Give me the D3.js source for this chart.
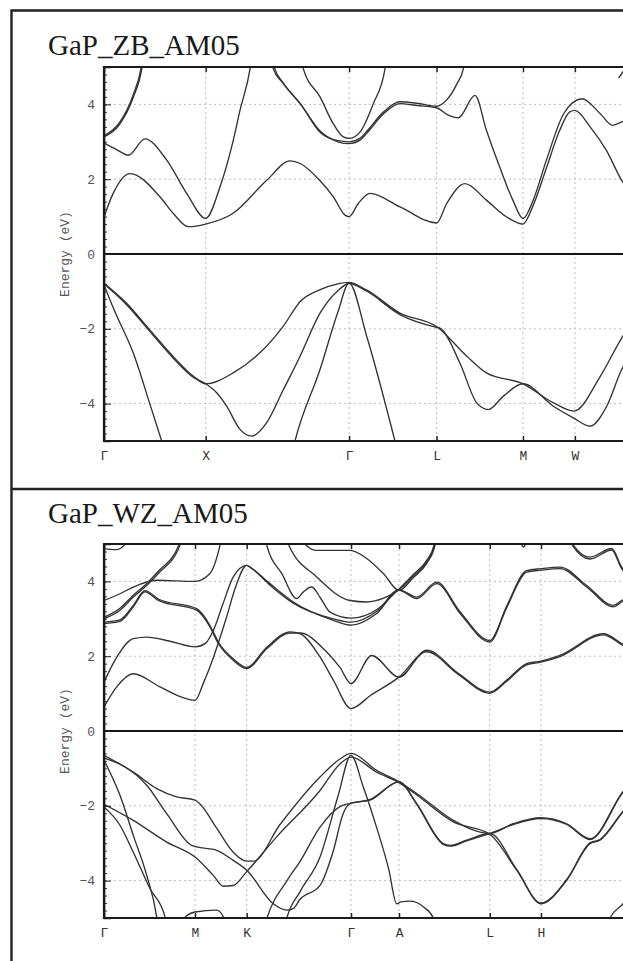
<!DOCTYPE html>
<html>
<head>
<meta charset="utf-8">
<script src="https://cdn.jsdelivr.net/npm/d3@7"></script>
<style>
  body { margin: 0; background: #fff; }
  svg { display: block; }
</style>
</head>
<body>
<div id="chart"></div>
<script>
// ---------------------------------------------------------------- data
const yTicks = [-4, -2, 0, 2, 4];

// k-path, zinc blende
const zbTickPos = [0, 1.0, 2.41, 3.27, 4.12, 4.63];
const zbTickLab = ["Γ", "X", "Γ", "L", "M", "W"];
// k-path, wurtzite
const wzTickPos = [0, 0.895, 1.403, 2.429, 2.901, 3.793, 4.297];
const wzTickLab = ["Γ", "M", "K", "Γ", "A", "L", "H"];

// bands as [k, E(eV)]
const zbConduction = [
  [[0,0.99],[0.09,1.62],[0.256,2.15],[0.55,1.53],[0.68,1.09],[0.83,0.73],[1.0,0.8],[1.27,1.09],[1.6,1.97],[1.83,2.49],[1.93,2.42],[2.12,1.97],[2.255,1.53],[2.37,1.04],[2.41,1.0],[2.5,1.35],[2.616,1.62],[2.91,1.26],[3.27,0.83],[3.37,1.35],[3.55,1.88],[3.76,1.44],[3.96,0.99],[4.12,0.8],[4.22,1.3],[4.35,2.3],[4.48,3.3],[4.58,3.8],[4.63,3.84],[4.78,3.4],[4.94,2.77],[5.09,1.97],[5.25,1.4]],
  [[1.64,5.2],[1.665,4.95],[1.75,4.6],[1.93,4.02],[2.12,3.3],[2.3,3.0],[2.41,2.95],[2.52,3.05],[2.58,3.22],[2.75,3.75],[2.91,4.02],[3.08,3.97],[3.27,3.91],[3.38,3.72],[3.484,3.64],[3.648,4.24],[3.76,3.31],[3.89,2.33],[4.02,1.44],[4.12,0.95],[4.22,1.44],[4.35,2.51],[4.52,3.75],[4.7,4.15],[4.88,3.75],[5.0,3.44],[5.09,3.53],[5.25,3.8]],
  [[1.655,5.2],[1.68,4.95],[1.76,4.58],[1.94,3.98],[2.13,3.24],[2.3,3.03],[2.41,3.0],[2.52,3.1],[2.58,3.27],[2.75,3.8],[2.91,4.07],[3.08,4.03],[3.27,3.95],[3.37,4.12],[3.47,4.55],[3.533,4.95],[3.55,5.2]],
  [[1.945,5.2],[1.96,4.95],[2.124,4.2],[2.255,3.48],[2.353,3.13],[2.41,3.09],[2.517,3.26],[2.648,4.02],[2.763,4.95],[2.775,5.2]],
  [[0,2.97],[0.12,2.8],[0.239,2.64],[0.403,3.08],[0.617,2.51],[0.813,1.62],[1.0,0.95],[1.141,1.8],[1.271,3.04],[1.337,3.84],[1.436,4.95],[1.45,5.2]],
  [[0,3.13],[0.157,3.48],[0.288,4.19],[0.371,4.95],[0.385,5.2]],
  [[0,3.16],[0.157,3.53],[0.285,4.24],[0.363,4.95],[0.378,5.2]],
  [[5.06,4.7],[5.1,4.86],[5.2,5.2]]
];
const zbValence = [
  [[0,-0.78],[0.22,-1.31],[0.45,-2.03],[0.68,-2.74],[0.88,-3.27],[1.0,-3.47],[1.27,-3.18],[1.53,-2.65],[1.76,-1.94],[1.93,-1.27],[2.12,-0.96],[2.3,-0.8],[2.41,-0.76],[2.58,-0.96],[2.91,-1.58],[3.27,-1.94],[3.57,-2.74],[3.76,-3.18],[4.12,-3.47],[4.42,-3.98],[4.62,-4.2],[4.88,-3.27],[5.09,-2.25],[5.25,-1.6]],
  [[0,-0.8],[0.22,-1.35],[0.45,-2.07],[0.68,-2.78],[0.88,-3.3],[1.0,-3.47],[1.108,-3.71],[1.206,-4.07],[1.337,-4.69],[1.452,-4.87],[1.6,-4.51],[1.763,-3.63],[1.927,-2.74],[2.124,-1.58],[2.3,-0.98],[2.41,-0.79],[2.58,-0.99],[2.91,-1.62],[3.27,-1.96],[3.304,-1.98],[3.5,-2.92],[3.665,-3.98],[3.779,-4.16],[3.927,-3.8],[4.12,-3.47],[4.418,-4.07],[4.615,-4.38],[4.779,-4.6],[4.943,-4.07],[5.09,-3.09],[5.25,-2.4]],
  [[0,-0.83],[0.1,-1.5],[0.288,-2.65],[0.45,-4.0],[0.567,-5.0],[0.59,-5.2]],
  [[1.86,-5.2],[1.878,-5.0],[2.124,-3.09],[2.3,-1.55],[2.41,-0.78],[2.583,-2.2],[2.861,-5.0],[2.88,-5.2]]
];

const wzConduction = [
  [[0,4.87],[0.12,4.85],[0.2,4.97],[0.23,5.2]],
  [[0,3.49],[0.157,3.67],[0.288,3.85],[0.518,4.03],[0.895,4.0],[1.042,4.21],[1.141,4.97],[1.16,5.2]],
  [[0,3.0],[0.157,3.23],[0.288,3.58],[0.403,3.85],[0.534,4.21],[0.747,4.97],[0.765,5.2]],
  [[0,3.04],[0.157,3.28],[0.288,3.63],[0.403,3.9],[0.534,4.27],[0.735,4.97],[0.752,5.2]],
  [[0,2.87],[0.157,2.93],[0.288,3.32],[0.403,3.72],[0.534,3.49],[0.911,3.23],[1.042,2.78],[1.124,2.34],[1.271,1.89],[1.403,1.67],[1.6,2.2],[1.83,2.62],[1.93,2.62],[2.173,2.16],[2.32,1.7],[2.429,1.27],[2.632,2.02],[2.901,1.44],[3.173,2.16],[3.48,1.55],[3.793,1.04],[3.96,1.36],[4.156,1.8],[4.297,1.87],[4.484,2.02],[4.91,2.6],[5.09,2.34],[5.25,2.1]],
  [[0,2.91],[0.157,2.97],[0.288,3.36],[0.403,3.75],[0.534,3.53],[0.911,3.27],[1.042,2.82],[1.124,2.38],[1.271,1.93],[1.403,1.7],[1.6,2.24],[1.83,2.65],[1.93,2.6],[2.124,1.98],[2.255,1.36],[2.429,0.6],[2.62,0.95],[2.901,1.44],[3.173,2.12],[3.48,1.52],[3.793,1.01],[3.96,1.33],[4.156,1.77],[4.297,1.84],[4.484,1.99],[4.91,2.57],[5.09,2.31],[5.25,2.07]],
  [[0,0.64],[0.125,1.18],[0.288,1.53],[0.55,1.18],[0.75,0.92],[0.895,0.82],[0.98,1.3],[1.08,2.0],[1.2,3.0],[1.3,3.9],[1.403,4.43],[1.436,4.38],[1.632,3.94],[1.861,3.45],[2.255,2.96],[2.429,2.83],[2.681,3.14],[2.901,3.76],[3.075,3.54],[3.271,3.94],[3.5,3.15],[3.793,2.38],[3.96,3.3],[4.156,4.25],[4.297,4.3],[4.484,4.34],[4.746,3.85],[5.008,3.32],[5.09,3.45],[5.25,3.7]],
  [[0,1.31],[0.12,1.95],[0.288,2.47],[0.42,2.51],[0.65,2.4],[0.895,2.25],[1.0,2.35],[1.075,2.69],[1.17,3.4],[1.271,4.12],[1.403,4.43],[1.46,4.33],[1.632,3.9],[1.861,3.42],[2.255,3.0],[2.429,2.91],[2.684,3.2],[2.901,3.78],[3.075,3.58],[3.271,3.98],[3.5,3.19],[3.793,2.42],[3.96,3.34],[4.156,4.29],[4.297,4.34],[4.484,4.38],[4.746,3.89],[5.008,3.36],[5.09,3.49],[5.25,3.74]],
  [[1.95,5.2],[1.99,4.96],[2.09,4.83],[2.42,4.83],[2.58,4.62],[2.747,4.21],[2.901,3.76],[3.04,4.1],[3.173,4.48],[3.255,4.97],[3.27,5.2]],
  [[1.795,5.2],[1.812,5.0],[2.091,4.12],[2.419,3.49],[2.583,3.45],[2.75,3.55],[2.901,3.78],[3.04,4.14],[3.173,4.52],[3.25,4.97],[3.265,5.2]],
  [[1.585,5.2],[1.6,4.97],[1.75,4.2],[1.895,3.54],[1.96,3.72],[2.042,3.85],[2.13,3.55],[2.222,3.18],[2.429,3.02],[2.684,3.25],[2.901,3.8],[3.04,4.18],[3.173,4.56],[3.245,4.97],[3.26,5.2]],
  [[4.6,5.2],[4.615,4.97],[4.779,4.65],[4.992,4.88],[5.09,4.38],[5.25,4.0]],
  [[4.59,5.2],[4.605,4.97],[4.779,4.6],[4.992,4.84],[5.09,4.34],[5.25,3.95]],
  [[4.09,5.2],[4.11,4.97],[4.123,4.92],[4.14,4.97],[4.16,5.2]]
];
const wzValence = [
  [[0,-0.65],[0.288,-1.1],[0.518,-1.54],[0.715,-1.76],[0.895,-1.85],[0.944,-1.95],[1.108,-2.6],[1.271,-3.24],[1.403,-3.48],[1.468,-3.48],[1.731,-2.5],[2.124,-1.23],[2.32,-0.75],[2.429,-0.6],[2.681,-1.05],[2.901,-1.36],[3.075,-1.67],[3.435,-2.39],[3.793,-2.74],[4.025,-2.48],[4.297,-2.32],[4.55,-2.48],[4.779,-2.88],[5.09,-1.67],[5.25,-1.1]],
  [[0,-1.96],[0.288,-2.39],[0.617,-2.97],[0.895,-3.37],[1.075,-3.86],[1.173,-4.15],[1.271,-4.13],[1.403,-3.76],[1.698,-2.83],[2.124,-1.59],[2.32,-0.88],[2.429,-0.7],[2.681,-1.1],[2.901,-1.38],[3.075,-1.71],[3.435,-2.43],[3.793,-2.76],[4.058,-3.72],[4.297,-4.62],[4.55,-3.99],[4.779,-3.01],[4.877,-2.92],[5.09,-2.21],[5.25,-1.7]],
  [[0,-0.72],[0.2,-0.95],[0.42,-1.45],[0.617,-2.21],[0.862,-3.06],[0.911,-3.1],[1.108,-3.19],[1.271,-3.46],[1.403,-3.72],[1.665,-4.62],[1.796,-4.79],[1.86,-4.75],[1.927,-4.5],[2.124,-4.13],[2.255,-3.2],[2.353,-2.2],[2.429,-1.93],[2.616,-1.85],[2.901,-1.36],[3.075,-1.94],[3.336,-3.01],[3.402,-3.06],[3.566,-2.92],[3.793,-2.74],[4.058,-3.7],[4.297,-4.6],[4.55,-3.97],[4.779,-2.99],[4.877,-2.9],[5.09,-2.19],[5.25,-1.68]],
  [[1.58,-5.2],[1.6,-5.02],[1.8,-4.0],[1.927,-3.49],[2.124,-2.57],[2.32,-2.02],[2.429,-1.93],[2.616,-1.83],[2.901,-1.36],[3.075,-1.96],[3.336,-3.03],[3.402,-3.08],[3.566,-2.94],[3.793,-2.74],[4.025,-2.5],[4.297,-2.34],[4.55,-2.5],[4.779,-2.9],[5.09,-1.69],[5.25,-1.12]],
  [[1.78,-5.2],[1.796,-5.02],[1.927,-4.3],[2.124,-3.37],[2.3,-1.75],[2.429,-0.65],[2.55,-1.5],[2.648,-2.3],[2.8,-3.7],[2.878,-4.62],[2.92,-4.57],[3.009,-4.55],[3.14,-4.7],[3.238,-5.0],[3.25,-5.2]],
  [[0,-0.78],[0.157,-1.72],[0.288,-2.79],[0.42,-3.86],[0.518,-4.97],[0.53,-5.2]],
  [[0,-2.03],[0.157,-2.52],[0.288,-3.24],[0.452,-4.21],[0.6,-4.97],[0.615,-5.2]],
  [[0.75,-5.2],[0.8,-4.97],[0.895,-4.84],[1.108,-4.79],[1.173,-4.97],[1.19,-5.2]],
  [[4.96,-5.2],[4.975,-5.0],[5.09,-4.66],[5.25,-4.2]]
];

// ---------------------------------------------------------------- layout
const W = 623, H = 961;
const mono = "'Liberation Mono', 'DejaVu Sans Mono', monospace";

const svg = d3.select("#chart").append("svg")
  .attr("width", W).attr("height", H);

const x = d3.scaleLinear().domain([0, 5.25]).range([104, 104 + 5.25 * 101.7]);

// outer frame and panel separator
svg.append("path")
  .attr("d", `M11.5,${H} V10.5 H${W} M11.5,489 H${W}`)
  .attr("fill", "none").attr("stroke", "#222").attr("stroke-width", 2.4);

const drawPanel = (p) => {
  const y = d3.scaleLinear().domain([-5, 5]).range([p.bottom, p.top]);
  const g = svg.append("g");

  g.append("text")
    .attr("x", 48).attr("y", p.titleY)
    .attr("font-family", "'Liberation Serif', 'DejaVu Serif', serif")
    .attr("font-size", 29).attr("fill", "#1a1a1a")
    .text(p.title);

  // grid
  const grid = g.append("g").attr("stroke", "#bdbdbd").attr("stroke-width", 1)
    .attr("stroke-dasharray", "2,3");
  grid.selectAll("line.gy").data(yTicks.filter(d => d !== 0)).join("line")
    .attr("x1", x(0)).attr("x2", W)
    .attr("y1", d => y(d)).attr("y2", d => y(d));
  grid.selectAll("line.gx").data(p.ticks.slice(1)).join("line")
    .attr("x1", d => x(d)).attr("x2", d => x(d))
    .attr("y1", p.top).attr("y2", p.bottom);

  // bands
  const clipId = "clip" + p.id;
  g.append("clipPath").attr("id", clipId).append("rect")
    .attr("x", x(0)).attr("y", p.top).attr("width", W).attr("height", p.bottom - p.top);
  const line = d3.line().x(d => x(d[0])).y(d => y(d[1])).curve(d3.curveMonotoneX);
  g.append("g").attr("clip-path", `url(#${clipId})`)
    .selectAll("path").data(p.bands).join("path")
    .attr("d", line)
    .attr("fill", "none").attr("stroke", "#333").attr("stroke-width", 1.35)
    .attr("stroke-linejoin", "round");

  // Fermi level
  g.append("line")
    .attr("x1", x(0)).attr("x2", W).attr("y1", y(0)).attr("y2", y(0))
    .attr("stroke", "#151515").attr("stroke-width", 2.2);

  // left axis: minor ticks, then major ticks with labels
  g.append("g").attr("transform", `translate(${x(0)},0)`)
    .call(d3.axisLeft(y).tickValues(d3.range(-5, 5.01, 0.2)).tickSize(-3).tickFormat(""))
    .call(a => a.select(".domain").remove())
    .selectAll("line").attr("stroke", "#333");
  const ya = g.append("g").attr("transform", `translate(${x(0)},0)`)
    .call(d3.axisLeft(y).tickValues(yTicks).tickSize(-7).tickPadding(9).tickFormat(d3.format("d")));
  ya.select(".domain").attr("stroke", "#222").attr("stroke-width", 1.6);
  ya.selectAll("line").attr("stroke", "#222");
  ya.selectAll("text").attr("font-family", mono).attr("font-size", 13).attr("fill", "#555");

  // bottom and top axes at the k-points
  const xa = g.append("g").attr("transform", `translate(0,${p.bottom})`)
    .call(d3.axisBottom(x).tickValues(p.ticks).tickSize(-5).tickPadding(10)
      .tickFormat((d, i) => p.labels[i]));
  xa.select(".domain").remove();
  xa.selectAll("line").attr("stroke", "#222").attr("stroke-width", 1.5);
  xa.selectAll("text").attr("font-family", mono).attr("font-size", 13).attr("fill", "#333");
  const ta = g.append("g").attr("transform", `translate(0,${p.top})`)
    .call(d3.axisTop(x).tickValues(p.ticks).tickSize(-5).tickFormat(""));
  ta.select(".domain").remove();
  ta.selectAll("line").attr("stroke", "#222").attr("stroke-width", 1.5);

  // frame lines
  g.append("path")
    .attr("d", `M${W},${p.top} H${x(0)} V${p.bottom} H${W}`)
    .attr("fill", "none").attr("stroke", "#1a1a1a").attr("stroke-width", 2.2);

  g.append("text")
    .attr("transform", `translate(66,${(p.top + p.bottom) / 2}) rotate(-90)`)
    .attr("text-anchor", "middle").attr("dominant-baseline", "middle")
    .attr("font-family", mono).attr("font-size", 13).attr("fill", "#555")
    .text("Energy (eV)");
};

drawPanel({ id: "zb", title: "GaP_ZB_AM05", titleY: 55, top: 67, bottom: 441,
  ticks: zbTickPos, labels: zbTickLab, bands: zbConduction.concat(zbValence) });
drawPanel({ id: "wz", title: "GaP_WZ_AM05", titleY: 523, top: 544, bottom: 918,
  ticks: wzTickPos, labels: wzTickLab, bands: wzConduction.concat(wzValence) });
</script>
</body>
</html>
